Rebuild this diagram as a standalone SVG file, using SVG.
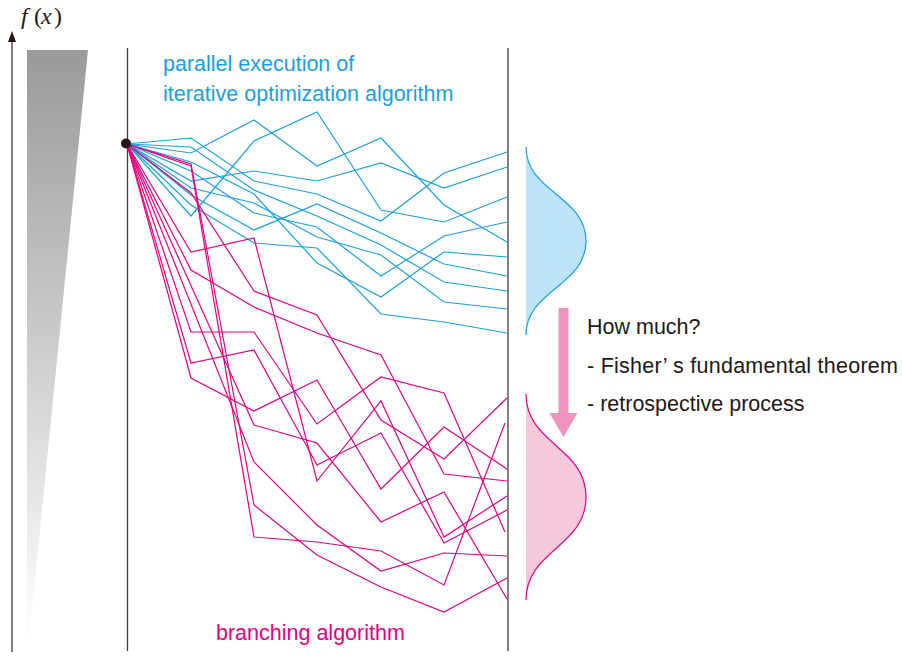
<svg xmlns="http://www.w3.org/2000/svg" width="902" height="657" viewBox="0 0 902 657">
<defs>
<linearGradient id="wedge" x1="0" y1="0" x2="0" y2="1">
<stop offset="0" stop-color="#9a9a9a"/>
<stop offset="1" stop-color="#ffffff"/>
</linearGradient>
</defs>
<style>
.frame{stroke:#3e3a39;stroke-width:1.3;fill:none}
.blue{stroke:#1aa0e0;stroke-width:1.2;fill:none;stroke-linejoin:miter}
.pink{stroke:#e4007f;stroke-width:1.2;fill:none;stroke-linejoin:miter}
.t{font-family:"Liberation Sans",Arial,sans-serif;font-size:21.5px}
.tb{fill:#1aa0e0}
.tp{fill:#e4007f}
.td{fill:#231815}
.m{font-family:"Liberation Serif","Times New Roman",serif;font-size:24px;fill:#231815}
</style>
<rect width="902" height="657" fill="#ffffff"/>
<g id="axis">
<polygon points="27,50 88,50 29,640 27,640" fill="url(#wedge)"/>
<line x1="12" y1="652" x2="12" y2="38" stroke="#3e3a39" stroke-width="1.3"/>
<polygon points="12,31 16,42 8,42" fill="#231815"/>
<text class="m" y="24"><tspan x="21" font-style="italic">f</tspan><tspan x="34">(</tspan><tspan x="41" font-style="italic">x</tspan><tspan x="54">)</tspan></text>
</g>
<g id="frame">
<line class="frame" x1="127.5" y1="48" x2="127.5" y2="651"/>
<line class="frame" x1="508" y1="48" x2="508" y2="651"/>
</g>
<g id="connectors">
<g id="blue-lines">
<polyline class="blue" points="127,144 191,153 254,120 317,166 381,138 444,205 507,242"/>
<polyline class="blue" points="127,144 191,216 254,141 317,112 381,210 444,222 507,197"/>
<polyline class="blue" points="127,144 191,181 254,171 317,181 381,163 444,188 507,167"/>
<polyline class="blue" points="127,144 191,138 254,181 317,194 381,221 444,173 507,152"/>
<polyline class="blue" points="127,144 191,171 254,213 317,227 381,276 444,236 507,222"/>
<polyline class="blue" points="127,144 191,162 254,194 317,263 381,297 444,252 507,257"/>
<polyline class="blue" points="127,144 191,205 254,243 317,248 381,314 444,322 507,333"/>
<polyline class="blue" points="127,144 191,147 254,190 317,216 381,245 444,282 507,291"/>
<polyline class="blue" points="127,144 191,195 254,230 317,204 381,233 444,264 507,276"/>
<polyline class="blue" points="127,144 191,188 254,203 317,237 381,255 444,302 507,309"/>
</g>
<g id="pink-lines">
<polyline class="pink" points="127,144 191,252 254,238 317,481 381,401 444,537 507,496"/>
<polyline class="pink" points="127,144 191,270 254,307 317,333 381,355 444,474 507,481"/>
<polyline class="pink" points="127,144 191,332 254,332 317,424 381,377 444,393 505,532"/>
<polyline class="pink" points="127,144 254,425 317,443 381,522 444,492 507,599"/>
<polyline class="pink" points="127,144 191,363 254,350 317,465 381,433 444,543 507,510"/>
<polyline class="pink" points="127,144 254,462 317,525 381,571 444,553 507,556"/>
<polyline class="pink" points="127,144 191,193 254,291 317,315 381,420 444,459 507,398"/>
<polyline class="pink" points="127,144 191,164 254,505 317,555 381,587 444,612 507,578"/>
<polyline class="pink" points="127,144 191,166 254,537 317,542 381,551 444,585 505,423"/>
<polyline class="pink" points="127,144 191,378 254,411 317,380 381,489 444,427 507,469"/>
</g>
</g>
<g id="start-node">
<circle cx="126" cy="143.5" r="5" fill="#231815"/>
</g>
<g id="blue-distribution">
<path d="M526,147 C526,192 586,196 586,241 C586,286 526,290 526,335 Z" fill="#bde3f7"/>
<path d="M526,147 C526,192 586,196 586,241 C586,286 526,290 526,335" fill="none" stroke="#1aa0e0" stroke-width="1.2"/>
</g>
<g id="pink-distribution">
<path d="M526,394 C526,444 586,447 586,497 C586,547 526,550 526,600 Z" fill="#f5c8dc"/>
<path d="M526,394 C526,444 586,447 586,497 C586,547 526,550 526,600" fill="none" stroke="#e4007f" stroke-width="1.2"/>
</g>
<g id="shift-arrow">
<polygon points="558.5,308 568.5,308 568.5,413 577.5,413 563.5,437 549.5,413 558.5,413" fill="#ee93bd"/>
</g>
<g id="labels">
<text class="t tb" x="163" y="71">parallel execution of</text>
<text class="t tb" x="163" y="101">iterative optimization algorithm</text>
<text class="t tp" x="216" y="640">branching algorithm</text>
<text class="t td" x="587" y="334">How much?</text>
<text class="t td" x="587" y="372.5" textLength="311" lengthAdjust="spacing">- Fisher’ s fundamental theorem</text>
<text class="t td" x="587" y="410.5">- retrospective process</text>
</g>
</svg>
